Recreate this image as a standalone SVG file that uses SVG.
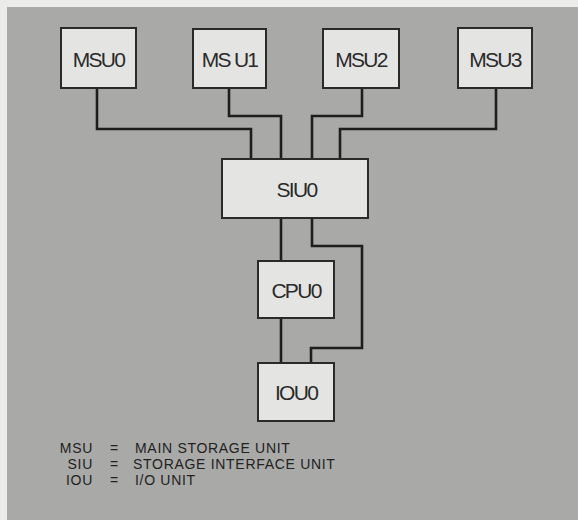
<svg xmlns="http://www.w3.org/2000/svg" width="578" height="520" viewBox="0 0 578 520">
<style>
.box{fill:#e4e4e2;stroke:#2a2a2a;stroke-width:2}
.lbl{font-family:"Liberation Sans",Arial,sans-serif;font-size:21px;fill:#2a2a2a;text-anchor:middle;letter-spacing:-1.7px}
.leg{font-family:"Liberation Sans",Arial,sans-serif;font-size:14px;fill:#222;letter-spacing:0.7px}
.w{fill:none;stroke:#1e1e1e;stroke-width:2.6;stroke-linejoin:miter}
</style>
<rect x="0" y="0" width="578" height="520" fill="#ebebea"/>
<rect x="7" y="7" width="571" height="513" fill="#a9a9a7"/>
<g id="connectors">
<polyline class="w" points="97,88 97,129 251,129 251,159"/>
<polyline class="w" points="229,88 229,116 281,116 281,159"/>
<polyline class="w" points="362,88 362,116 312,116 312,159"/>
<polyline class="w" points="496,88 496,129 340,129 340,159"/>
<polyline class="w" points="281,218 281,261"/>
<polyline class="w" points="281,318 281,363"/>
<polyline class="w" points="312,218 312,246 362,246 362,348 311,348 311,363"/>
</g>
<g id="MSU0"><rect class="box" x="61" y="28" width="75" height="60"/><text class="lbl" x="98.5" y="66.5">MSU0</text></g>
<g id="MSU1"><rect class="box" x="193" y="29" width="73" height="59"/><text class="lbl" x="229.5" y="66.5">MS U1</text></g>
<g id="MSU2"><rect class="box" x="323" y="29" width="76" height="59"/><text class="lbl" x="361" y="66.5">MSU2</text></g>
<g id="MSU3"><rect class="box" x="458" y="28" width="74" height="60"/><text class="lbl" x="495" y="66.5">MSU3</text></g>
<g id="SIU0"><rect class="box" x="222" y="159" width="146" height="59"/><text class="lbl" x="296.5" y="197">SIU0</text></g>
<g id="CPU0"><rect class="box" x="258" y="261" width="76" height="57"/><text class="lbl" x="296" y="298">CPU0</text></g>
<g id="IOU0"><rect class="box" x="258" y="363" width="76" height="58"/><text class="lbl" x="296" y="400">IOU0</text></g>
<g id="legend">
<text class="leg" x="93" y="453" text-anchor="end">MSU</text>
<text class="leg" x="110" y="453">=</text>
<text class="leg" x="135" y="453">MAIN STORAGE UNIT</text>
<text class="leg" x="93" y="469" text-anchor="end">SIU</text>
<text class="leg" x="110" y="469">=</text>
<text class="leg" x="133" y="469">STORAGE INTERFACE UNIT</text>
<text class="leg" x="93" y="485" text-anchor="end">IOU</text>
<text class="leg" x="110" y="485">=</text>
<text class="leg" x="135" y="485">I/O UNIT</text>
</g>
</svg>
